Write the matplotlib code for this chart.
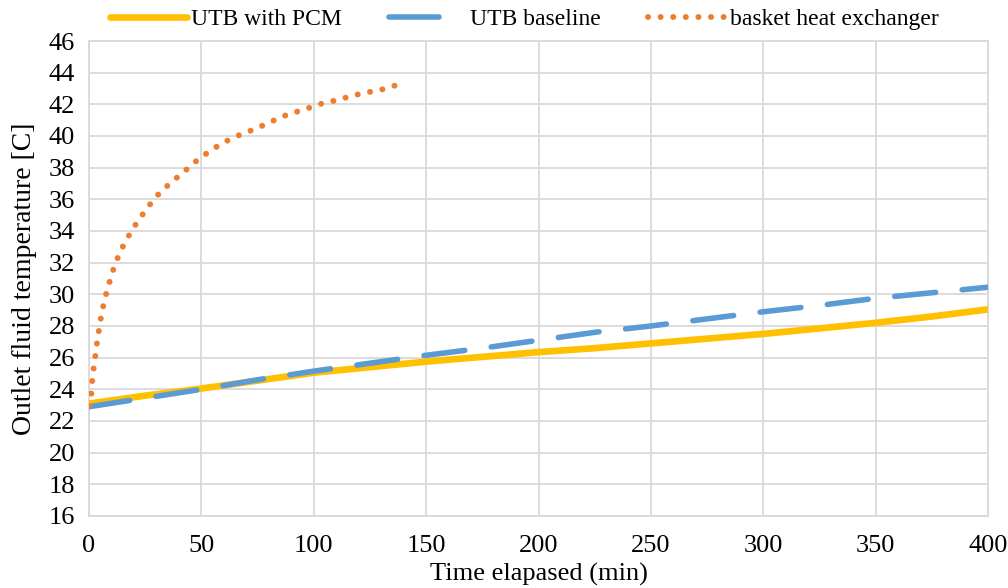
import matplotlib
matplotlib.use("Agg")
import matplotlib.pyplot as plt

# UTB with PCM
t_pcm = [0, 25, 50, 75, 100, 125, 150, 175, 200, 225, 250, 275, 300, 325, 350, 375, 400]
T_pcm = [23.1, 23.6, 24.05, 24.55, 25.05, 25.4, 25.75, 26.05, 26.35, 26.6, 26.9, 27.2,
         27.5, 27.85, 28.2, 28.6, 29.05]

# UTB baseline
t_base = [0, 25, 50, 75, 100, 125, 150, 175, 200, 225, 250, 275, 300, 325, 350, 375, 400]
T_base = [22.9, 23.45, 24.0, 24.6, 25.15, 25.65, 26.15, 26.6, 27.1, 27.6, 28.0, 28.45,
          28.9, 29.3, 29.75, 30.1, 30.45]

# basket heat exchanger
t_bhx = [0, 0.4, 1.2, 1.5, 2.2, 3.0, 3.7, 4.6, 5.5, 6.7, 8.1, 9.7, 11.3, 13.5, 16.0, 19.0,
         21.9, 25.2, 28.6, 32.3, 36.5, 40.8, 44.9, 49.1, 53.8, 58.6, 63.6, 68.7, 73.9,
         79.1, 84.1, 89.1, 94.2, 99.4, 104.7, 109.9, 115.1, 120.3, 125.5, 130.7, 136.5]
T_bhx = [22.95, 23.1, 23.9, 24.7, 25.5, 26.3, 27.1, 27.9, 28.7, 29.5, 30.3, 31.05, 31.8,
         32.55, 33.3, 34.0, 34.67, 35.3, 35.96, 36.54, 37.05, 37.58, 38.06, 38.6, 39.03,
         39.5, 39.85, 40.17, 40.44, 40.78, 41.1, 41.4, 41.6, 41.85, 42.1, 42.25, 42.46,
         42.65, 42.8, 42.95, 43.2]

x_ticks = [0, 50, 100, 150, 200, 250, 300, 350, 400]
y_ticks = list(range(16, 47, 2))

plt.rcParams['font.family'] = ['Liberation Serif', 'DejaVu Serif']
FS = 19

fig = plt.figure(figsize=(10.08, 5.88), dpi=100)
ax = fig.add_axes([89/1008, 1-516/588, (988-89)/1008, (516-41)/588])

ax.plot(t_pcm, T_pcm, color='#FFC000', lw=4.8, solid_capstyle='round',
        label='UTB with PCM', zorder=3)
ax.plot(t_base, T_base, color='#5B9BD5', lw=4.0, dash_capstyle='round',
        linestyle=(0, (7.4, 4.8)), label='UTB baseline', zorder=4)
ax.plot(t_bhx, T_bhx, color='#ED7D31', lw=4.3, dash_capstyle='round',
        linestyle=(0, (0.01, 2.1)), label='basket heat exchanger', zorder=5)

ax.set_xlim(0, 400)
ax.set_ylim(16, 46)
ax.set_xticks(x_ticks)
ax.set_yticks(y_ticks)
ax.grid(True, color='#D9D9D9', lw=1.3)
ax.set_axisbelow(True)
for s in ax.spines.values():
    s.set_color('#D9D9D9')
    s.set_linewidth(1.3)
ax.tick_params(length=0, labelsize=FS)
ax.tick_params(axis='x', pad=14)
ax.tick_params(axis='y', pad=10)

ax.set_xlabel('Time elapased (min)', fontsize=FS, labelpad=4)
ax.set_ylabel('Outlet fluid temperature [C]', fontsize=20, labelpad=8)

leg = ax.legend(loc='center', bbox_to_anchor=(0.484, 1.046), ncol=3, frameon=False,
                fontsize=17, handlelength=3.3, handletextpad=0.15, columnspacing=2.0,
                borderaxespad=0, borderpad=0.0)
# legend baseline handle shows a single long dash, as in the reference
leg.get_lines()[1].set_linestyle((0, (9.0, 20.0)))
leg.get_lines()[1].set_dash_capstyle('round')

fig.savefig('out.png', dpi=100)
